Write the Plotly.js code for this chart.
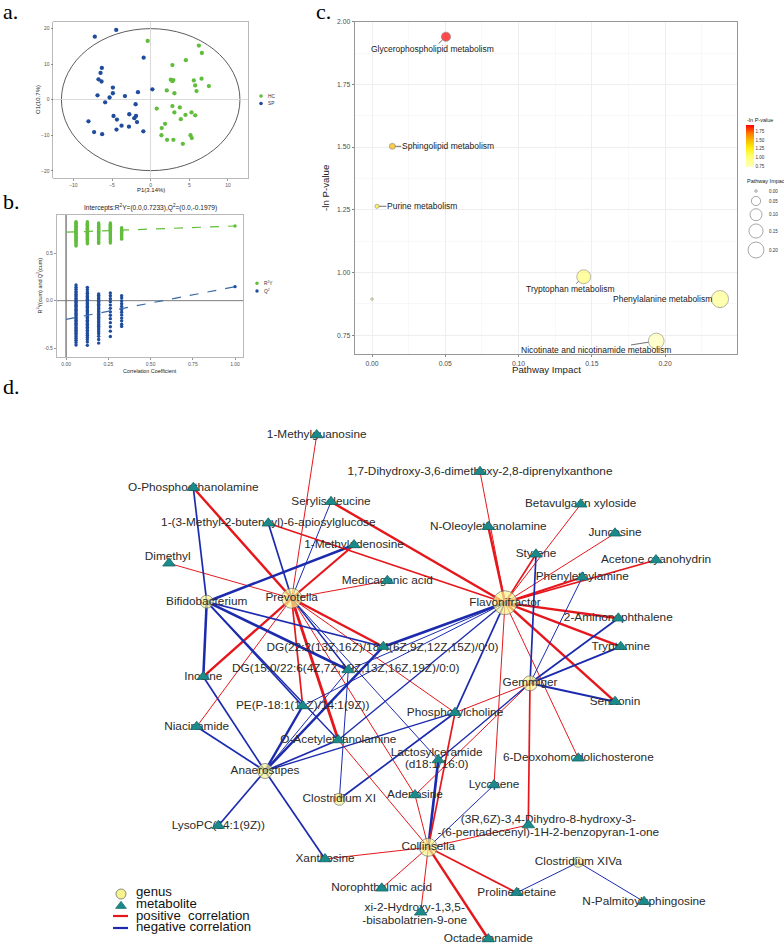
<!DOCTYPE html>
<html><head><meta charset="utf-8">
<script src="https://cdn.plot.ly/plotly-3.0.1.min.js"></script>
<style>html,body{margin:0;padding:0;background:#fff}#chart{width:784px;height:945px}</style>
</head><body><div id="chart"></div>
<script>
// ================= DATA =================
// Panel a: OPLS-DA score plot
const hcP1 = [-0.39,6.23,6.62,4.55,2.81,2.60,2.94,2.81,5.58,6.58,5.76,7.53,2.08,5.93,3.07,0.78,2.81,3.77,3.07,4.50,5.28,5.76,3.90,1.86,1.43,1.39,5.15,5.32,2.12,2.94,4.16];
const hcO1 = [16.5,15.2,13.1,11.1,9.7,5.6,5.5,5.2,5.4,5.9,4.0,3.8,2.6,2.4,1.8,-2.5,-1.8,-2.2,-3.6,-4.3,-3.6,-4.4,-5.5,-6.8,-8.0,-10.0,-10.0,-10.8,-11.3,-11.3,-12.4];
const spP1 = [-7.23,-4.46,-0.91,-6.32,-6.49,-6.75,-6.36,-4.89,0.22,-1.65,-4.89,-6.88,-3.33,-5.32,-5.89,-1.95,-4.81,-2.77,-1.90,-2.12,-4.37,-1.77,-8.05,-3.77,-2.81,-4.42,-7.32,-6.28,-0.95];
const spO1 = [17.7,19.6,11.8,8.9,7.5,5.7,5.1,3.4,2.9,2.1,1.8,1.2,1.0,0.6,-0.75,-1.3,-4.6,-4.1,-4.6,-5.2,-5.6,-6.3,-6.1,-7.3,-7.6,-8.4,-9.1,-9.7,-8.9];
const ellipseP1 = 11.55, ellipseO1 = 19.95;
const groupNames = ['HC','SP'];

// Panel b: permutation test
const permCorr = [0.059,0.126,0.193,0.262,0.329];
const r2yPerm = [
 [0.835,0.826,0.817,0.81,0.801,0.795,0.786,0.779,0.77,0.762,0.755,0.744,0.738,0.729,0.72,0.711,0.703,0.694,0.686,0.677,0.668,0.659,0.648,0.637,0.626,0.614,0.601,0.589,0.578],
 [0.834,0.823,0.815,0.806,0.797,0.788,0.781,0.772,0.764,0.755,0.747,0.739,0.73,0.722,0.713,0.705,0.696,0.688,0.679,0.668,0.659,0.648,0.636,0.623,0.611,0.6],
 [0.82,0.81,0.802,0.793,0.784,0.776,0.767,0.759,0.75,0.742,0.733,0.724,0.716,0.707,0.698,0.689,0.679,0.668,0.657,0.645,0.632,0.618,0.605],
 [0.82,0.808,0.797,0.786,0.776,0.765,0.755,0.745,0.736,0.726,0.716,0.706,0.695,0.684,0.672,0.659,0.645,0.628,0.61],
 [0.77,0.758,0.745,0.733,0.721,0.71,0.698,0.686,0.674,0.662,0.65]
];
const q2Perm = [
 [0.166,0.142,0.121,0.097,0.084,0.066,0.051,0.038,0.022,0.009,-0.006,-0.019,-0.034,-0.049,-0.061,-0.077,-0.092,-0.104,-0.119,-0.135,-0.148,-0.163,-0.179,-0.192,-0.207,-0.221,-0.238,-0.252,-0.266,-0.283,-0.297,-0.312,-0.329,-0.344,-0.361,-0.378,-0.396,-0.417,-0.441,-0.468],
 [0.141,0.118,0.093,0.078,0.06,0.044,0.031,0.015,0.001,-0.014,-0.029,-0.043,-0.058,-0.072,-0.087,-0.103,-0.116,-0.131,-0.146,-0.161,-0.175,-0.19,-0.206,-0.219,-0.235,-0.249,-0.265,-0.281,-0.296,-0.313,-0.33,-0.348,-0.366,-0.387,-0.41,-0.437,-0.472],
 [0.072,0.056,0.039,0.023,0.008,-0.007,-0.023,-0.038,-0.052,-0.068,-0.083,-0.099,-0.114,-0.128,-0.144,-0.159,-0.174,-0.19,-0.205,-0.221,-0.236,-0.253,-0.27,-0.288,-0.307,-0.327,-0.35,-0.377,-0.41,-0.448],
 [0.081,0.052,0.02,-0.012,-0.047,-0.081,-0.118,-0.154,-0.19,-0.232,-0.275,-0.322,-0.378],
 [0.052,0.027,-0.004,-0.033,-0.061,-0.094,-0.121,-0.152,-0.184,-0.213,-0.248,-0.272]
];
const r2yOriginal = 0.789, q2Original = 0.148;
const r2yIntercept = 0.7233, q2Intercept = -0.1979;

// Panel c: pathway analysis
const pathwayNames = ['Glycerophospholipid metabolism','Sphingolipid metabolism','Purine metabolism','Tryptophan metabolism','Phenylalanine metabolism','Nicotinate and nicotinamide metabolism',''];
const pathwayImpact = [0.0505,0.0139,0.0034,0.1445,0.2375,0.194,0.0];
const pathwayNegLogP = [1.94,1.503,1.264,0.983,0.894,0.727,0.894];
const impactLegendValues = [0.00,0.05,0.10,0.15,0.20];
const negLogPTicks = [0.75,1.00,1.25,1.50,1.75];

// Panel d: correlation network
const metabIds = ['mgu','dhx','pea','sil','bvx','mba','oea','jun','mad','sty','acy','dim','phe','med','amn','dg22','try','dg15','ino','ser','pe','pch','nia','oae','ddc','lac','lyc','ade','dbp','lpc','xan','nor','xbh','pro','nps','oct'];
const metabLabels = ['1-Methylguanosine','1,7-Dihydroxy-3,6-dimethoxy-2,8-diprenylxanthone','O-Phosphoethanolamine','Serylisoleucine','Betavulgarin xyloside','1-(3-Methyl-2-butenoyl)-6-apiosylglucose','N-Oleoylethanolamine','Juncosine','1-Methyladenosine','Styrene','Acetone cyanohydrin','Dimethyl','Phenylethylamine','Medicagenic acid','2-Aminonaphthalene','DG(22:2(13Z,16Z)/18:4(6Z,9Z,12Z,15Z)/0:0)','Tryptamine','DG(15:0/22:6(4Z,7Z,10Z,13Z,16Z,19Z)/0:0)','Inosine','Serotonin','PE(P-18:1(11Z)/14:1(9Z))','Phosphorylcholine','Niacinamide','O-Acetylethanolamine','6-Deoxohomodolichosterone','Lactosylceramide\n(d18:1/16:0)','Lycopene','Adenosine','(3R,6Z)-3,4-Dihydro-8-hydroxy-3-\n-(6-pentadecenyl)-1H-2-benzopyran-1-one','LysoPC(14:1(9Z))','Xanthosine','Norophthalmic acid','xi-2-Hydroxy-1,3,5-\n-bisabolatrien-9-one','Proline betaine','N-Palmitoylsphingosine','Octadecanamide'];
const metabLayoutX = [316.7,480,193.3,331,580.7,268.3,488.3,615,354,536,656,169,582.3,387.3,618.3,383.3,620.7,348.3,203.3,615,302.7,455,196.7,338.3,578.3,438.3,494,415,528.3,218.3,325,381.7,420.7,516.7,644,488.3];
const metabLayoutY = [435,471.7,487.7,501.7,504.3,523.3,526.7,533.3,545,554.3,560,563.3,577.3,580.7,618.3,646.7,646.7,670,676.7,701.7,706,712.7,726.7,740,758.3,760,785,795,825,825.7,859,888.3,912.3,892.7,901.7,939];
const genusNames = ['Prevotella','Bifidobacterium','Flavonifractor','Gemmiger','Anaerostipes','Clostridium XI','Collinsella','Clostridium XIVa'];
const genusLayoutX = [291.7,206.7,505,530,265,339.3,428.3,578.3];
const genusLayoutY = [598.3,601.7,602.7,683.3,771,799.3,847.3,862.3];
const genusDegreeSize = [20,13,24,15,15,12,18,10];

const edgeGenus = [
 'Prevotella','Prevotella','Prevotella','Prevotella','Prevotella','Prevotella','Prevotella','Prevotella','Prevotella','Prevotella','Prevotella','Prevotella','Prevotella','Prevotella','Prevotella','Prevotella',
 'Bifidobacterium','Bifidobacterium','Bifidobacterium','Bifidobacterium','Bifidobacterium','Bifidobacterium','Bifidobacterium',
 'Flavonifractor','Flavonifractor','Flavonifractor','Flavonifractor','Flavonifractor','Flavonifractor','Flavonifractor','Flavonifractor','Flavonifractor','Flavonifractor','Flavonifractor','Flavonifractor','Flavonifractor','Flavonifractor','Flavonifractor','Flavonifractor','Flavonifractor','Flavonifractor','Flavonifractor',
 'Gemmiger','Gemmiger','Gemmiger','Gemmiger','Gemmiger','Gemmiger','Gemmiger','Gemmiger','Gemmiger',
 'Anaerostipes','Anaerostipes','Anaerostipes','Anaerostipes','Anaerostipes','Anaerostipes','Anaerostipes','Anaerostipes','Anaerostipes',
 'Clostridium XI','Clostridium XI',
 'Collinsella','Collinsella','Collinsella','Collinsella','Collinsella','Collinsella','Collinsella','Collinsella','Collinsella','Collinsella','Collinsella',
 'Clostridium XIVa','Clostridium XIVa'];
const edgeMetab = [
 'mgu','pea','sil','mba','mad','dim','med','ino','nia','pe','oae','dg22','dg15','pch','ade','lac',
 'pea','mad','ino','dg15','dg22','pe','oae',
 'sil','mba','dhx','oea','bvx','jun','sty','acy','phe','amn','try','ser','dg22','dg15','pe','pch','lyc','ddc','oae',
 'sty','phe','amn','try','ser','pch','dbp','ade','lac',
 'ino','nia','dg22','dg15','pe','oae','pch','lpc','xan',
 'dg15','pch',
 'lac','pch','ade','lyc','dbp','xan','nor','xbh','oct','pro','oae',
 'pro','nps'];
const edgeCorr = [
 0.5,0.7,-0.5,-0.6,0.66,0.5,0.5,0.7,0.5,0.6,0.76,0.7,-0.56,0.5,0.5,-0.5,
 -0.6,-0.72,-0.72,-0.72,-0.6,-0.6,-0.55,
 0.7,0.6,0.5,0.7,0.5,0.5,0.6,0.6,0.66,0.7,0.7,0.7,-0.74,-0.5,-0.5,-0.6,0.5,0.5,-0.55,
 -0.6,-0.5,-0.6,-0.64,-0.64,0.5,0.6,0.5,-0.55,
 -0.6,-0.6,-0.7,-0.5,-0.7,-0.6,-0.55,-0.6,-0.6,
 -0.5,-0.6,
 -0.74,0.6,0.5,-0.5,0.5,0.5,0.5,0.5,0.7,0.6,0.5,
 -0.5,-0.5];

// ================= STYLE / LAYOUT =================
const W = 784, H = 945;
const FONT = 'Liberation Sans, Arial, Helvetica, sans-serif';
const SERIF = 'Liberation Serif, Times New Roman, serif';
const GREEN = '#62bd3d', BLUE = '#1f4c9c';
const RED_E = '#e5171c', BLUE_E = '#1c2bae';
const TEAL = '#1b8a8a', YEL = '#f8f48c';
const dx = v => v / W, dy = v => 1 - v / H;

const traces = [], shapes = [], ann = [];

// ---- Panel a
traces.push({type:'scatter',mode:'markers',x:hcP1,y:hcO1,xaxis:'x',yaxis:'y',marker:{color:GREEN,size:4.3},hoverinfo:'skip',showlegend:false});
traces.push({type:'scatter',mode:'markers',x:spP1,y:spO1,xaxis:'x',yaxis:'y',marker:{color:BLUE,size:4.3},hoverinfo:'skip',showlegend:false});
shapes.push({type:'circle',xref:'x',yref:'y',x0:-ellipseP1,x1:ellipseP1,y0:-ellipseO1,y1:ellipseO1,line:{color:'#333',width:0.8},layer:'below'});

// ---- Panel b
const bx1=[],by1=[],bx2=[],by2=[];
permCorr.forEach((c,i)=>{ r2yPerm[i].forEach(v=>{bx1.push(c);by1.push(v);}); q2Perm[i].forEach(v=>{bx2.push(c);by2.push(v);}); });
bx1.push(1.0); by1.push(r2yOriginal); bx2.push(1.0); by2.push(q2Original);
shapes.push({type:'line',xref:'x2',yref:'y2',x0:0,x1:0,y0:-0.595,y1:0.905,line:{color:'#808080',width:1.5},layer:'below'});
shapes.push({type:'line',xref:'x2',yref:'y2',x0:-0.0555,x1:1.049,y0:0,y1:0,line:{color:'#6e6e6e',width:0.9},layer:'below'});
traces.push({type:'scatter',mode:'markers',x:bx1,y:by1,xaxis:'x2',yaxis:'y2',marker:{color:GREEN,size:3.4},hoverinfo:'skip',showlegend:false});
traces.push({type:'scatter',mode:'markers',x:bx2,y:by2,xaxis:'x2',yaxis:'y2',marker:{color:BLUE,size:3.4},hoverinfo:'skip',showlegend:false});
traces.push({type:'scatter',mode:'lines',x:[0,1],y:[r2yIntercept,r2yOriginal],xaxis:'x2',yaxis:'y2',line:{color:GREEN,width:1.2,dash:'dash'},hoverinfo:'skip',showlegend:false});
traces.push({type:'scatter',mode:'lines',x:[0,1],y:[q2Intercept,q2Original],xaxis:'x2',yaxis:'y2',line:{color:'#3a6aa8',width:1.2,dash:'dash'},hoverinfo:'skip',showlegend:false});

// ---- Panel c
const impactSize = v => 2.5 + 30*Math.sqrt(v);
traces.push({type:'scatter',mode:'markers',x:pathwayImpact,y:pathwayNegLogP,xaxis:'x3',yaxis:'y3',hoverinfo:'skip',showlegend:false,
  marker:{size:pathwayImpact.map(impactSize),color:pathwayNegLogP,cmin:0.72,cmax:1.94,
    colorscale:[[0,'#ffffb8'],[0.25,'#ffff70'],[0.45,'#ffee10'],[0.62,'#f8c000'],[0.8,'#ff7a00'],[1,'#ff0000']],
    line:{color:'#555',width:0.6},
    colorbar:{x:dx(746),xanchor:'left',y:dy(146),yanchor:'middle',len:42,lenmode:'pixels',thickness:8,thicknessmode:'pixels',
      outlinewidth:0,tickvals:negLogPTicks,ticktext:negLogPTicks.map(v=>v.toFixed(2)),ticks:'',tickfont:{size:4.5,color:'#333',family:FONT},
      xpad:0,ypad:0}}});
ann.push({xref:'x4',yref:'y4',x:745,y:120,text:'-ln P-value',showarrow:false,xanchor:'left',font:{size:5.5,color:'#222',family:FONT}});
const labelOff = [[-13.3,12.3],[55.4,0],[44.9,0],[-13.7,12.3],[-57.9,0],[-60,9.5],[0,0]];
pathwayNames.forEach((n,i)=>{ if(!n) return;
  ann.push({xref:'x3',yref:'y3',x:pathwayImpact[i],y:pathwayNegLogP[i],text:n,showarrow:true,arrowhead:0,arrowwidth:0.7,arrowcolor:'#333',
    ax:labelOff[i][0],ay:labelOff[i][1],standoff:impactSize(pathwayImpact[i])/2,font:{size:8.5,color:'#1a1a1a',family:FONT},borderpad:0});
});
// size legend (overlay, pixel coords)
const sizeLegY = [191,201,214.7,231,250];
traces.push({type:'scatter',mode:'markers',x:impactLegendValues.map(()=>756),y:sizeLegY,xaxis:'x4',yaxis:'y4',hoverinfo:'skip',showlegend:false,cliponaxis:false,
  marker:{size:impactLegendValues.map(impactSize),color:'#fff',line:{color:'#333',width:0.6}}});
impactLegendValues.forEach((v,i)=>ann.push({xref:'x4',yref:'y4',x:767,y:sizeLegY[i],text:v.toFixed(2),showarrow:false,xanchor:'left',font:{size:4.5,color:'#333',family:FONT}}));
ann.push({xref:'x4',yref:'y4',x:745,y:181,text:'Pathway Impact',showarrow:false,xanchor:'left',font:{size:5.5,color:'#222',family:FONT}});

// ---- Panel d network
const gIdx = {}; genusNames.forEach((g,i)=>gIdx[g]=i);
const mIdx = {}; metabIds.forEach((m,i)=>mIdx[m]=i);
const edgeWidth = r => 1 + (Math.abs(r)-0.5)*7;
edgeGenus.forEach((g,k)=>{
  const gi = gIdx[g], mi = mIdx[edgeMetab[k]];
  traces.push({type:'scatter',mode:'lines',x:[genusLayoutX[gi],metabLayoutX[mi]],y:[genusLayoutY[gi],metabLayoutY[mi]],xaxis:'x4',yaxis:'y4',
    line:{color:edgeCorr[k]>0?RED_E:BLUE_E,width:edgeWidth(edgeCorr[k])},hoverinfo:'skip',showlegend:false,cliponaxis:false});
});
const labelShift = {dim:[-1.3,-6],dg22:[-0.8,1.5],dg15:[-2.5,-0.5],lac:[-1.6,-1],dbp:[20,1.2],xbh:[-6,2.4]};
const LINE_GAP = 12.8;
const lx=[],ly=[],lt=[];
metabIds.forEach((id,i)=>{
  const lines = metabLabels[i].split('\n');
  const s = labelShift[id]||[0,0];
  lines.forEach((ln,k)=>{ lx.push(metabLayoutX[i]+s[0]); ly.push(metabLayoutY[i]+s[1]+(k-(lines.length-1)/2)*LINE_GAP); lt.push(ln); });
});
traces.push({type:'scatter',mode:'text',x:lx,y:ly,text:lt,textposition:'middle center',textfont:{family:FONT,size:11.8,color:'#2a2a2a'},xaxis:'x4',yaxis:'y4',cliponaxis:false,hoverinfo:'skip',showlegend:false});
traces.push({type:'scatter',mode:'markers',x:metabLayoutX,y:metabLayoutY,xaxis:'x4',yaxis:'y4',cliponaxis:false,hoverinfo:'skip',showlegend:false,
  marker:{symbol:'triangle-up',size:11,color:TEAL,line:{color:'#0e5c5c',width:0.7}}});
traces.push({type:'scatter',mode:'markers',x:genusLayoutX,y:genusLayoutY,xaxis:'x4',yaxis:'y4',cliponaxis:false,hoverinfo:'skip',showlegend:false,
  marker:{symbol:'circle',size:genusDegreeSize,color:YEL,line:{color:'#707070',width:1}}});
traces.push({type:'scatter',mode:'text',x:genusLayoutX,y:genusLayoutY,text:genusNames,textposition:'middle center',textfont:{family:FONT,size:11.8,color:'#2a2a2a'},xaxis:'x4',yaxis:'y4',cliponaxis:false,hoverinfo:'skip',showlegend:false});

// legend panel d
traces.push({type:'scatter',mode:'markers',x:[121],y:[894],xaxis:'x4',yaxis:'y4',hoverinfo:'skip',showlegend:false,cliponaxis:false,marker:{size:10,color:YEL,line:{color:'#707070',width:0.8}}});
traces.push({type:'scatter',mode:'markers',x:[121],y:[906],xaxis:'x4',yaxis:'y4',hoverinfo:'skip',showlegend:false,cliponaxis:false,marker:{symbol:'triangle-up',size:9.5,color:TEAL,line:{color:'#0e5c5c',width:0.6}}});
shapes.push({type:'line',xref:'x4',yref:'y4',x0:113,x1:128,y0:916,y1:916,line:{color:RED_E,width:2.2}});
shapes.push({type:'line',xref:'x4',yref:'y4',x0:113,x1:128,y0:928,y1:928,line:{color:BLUE_E,width:2.2}});
[['genus',891.5],['metabolite',903.3],['positive\u00a0 correlation',915],['negative correlation',926.7]].forEach(t=>
  ann.push({xref:'x4',yref:'y4',x:134,y:t[1],text:t[0],showarrow:false,xanchor:'left',yanchor:'middle',font:{size:13.2,color:'#111',family:FONT}}));

// legends panels a, b
traces.push({type:'scatter',mode:'markers',x:[261,261],y:[96,103.5],xaxis:'x4',yaxis:'y4',hoverinfo:'skip',showlegend:false,cliponaxis:false,marker:{size:3.6,color:[GREEN,BLUE]}});
ann.push({xref:'x4',yref:'y4',x:265.5,y:96,text:groupNames[0],showarrow:false,xanchor:'left',font:{size:4.8,color:'#333',family:FONT}});
ann.push({xref:'x4',yref:'y4',x:265.5,y:103.5,text:groupNames[1],showarrow:false,xanchor:'left',font:{size:4.8,color:'#333',family:FONT}});
traces.push({type:'scatter',mode:'markers',x:[257,257],y:[283.3,291],xaxis:'x4',yaxis:'y4',hoverinfo:'skip',showlegend:false,cliponaxis:false,marker:{size:3.4,color:[GREEN,BLUE]}});
ann.push({xref:'x4',yref:'y4',x:261.5,y:283.3,text:'R<sup>2</sup>Y',showarrow:false,xanchor:'left',font:{size:4.8,color:'#333',family:FONT}});
ann.push({xref:'x4',yref:'y4',x:261.5,y:291,text:'Q<sup>2</sup>',showarrow:false,xanchor:'left',font:{size:4.8,color:'#333',family:FONT}});

// axis titles & panel letters
const A = (x,y,t,sz,extra)=>ann.push(Object.assign({xref:'x4',yref:'y4',x:x,y:y,text:t,showarrow:false,font:{size:sz,color:'#222',family:FONT}},extra||{}));
A(150.7,190,'P1(3.14%)',6);
A(38,100,'O1(10.7%)',6,{textangle:-90});
A(150,207.5,'Intercepts:R<sup>2</sup>Y=(0.0,0.7233),Q<sup>2</sup>=(0.0,-0.1979)',6.6);
A(150,370.5,'Correlation Coefficient',5.4);
A(39.5,286,'R<sup>2</sup>Y(cum) and Q<sup>2</sup>(cum)',5.4,{textangle:-90});
A(546.7,369,'Pathway Impact',9.7);
A(325,188,'-ln P-value',9.7,{textangle:-90});
const L = (x,y,t)=>ann.push({xref:'x4',yref:'y4',x:x,y:y,text:t,showarrow:false,xanchor:'left',yanchor:'middle',font:{size:22,color:'#000',family:SERIF}});
L(0.5,11,'a.'); L(0.5,201,'b.'); L(314,11,'c.'); L(0.5,386,'d.');

// ---- axes
const tickFontSmall = {size:5,color:'#555',family:FONT};
const baseAx = {ticks:'outside',ticklen:2,tickwidth:0.6,tickcolor:'#555',showgrid:false,showline:true,mirror:true,linecolor:'#a8a8a8',linewidth:0.8,fixedrange:true};
const layout = {
  width:W,height:H,margin:{l:0,r:0,t:0,b:0,pad:0},paper_bgcolor:'#fff',plot_bgcolor:'rgba(0,0,0,0)',showlegend:false,hovermode:false,
  xaxis:Object.assign({},baseAx,{domain:[dx(53.3),dx(248.3)],range:[-12.6,12.63],tickvals:[-10,-5,0,5,10],tickfont:tickFontSmall,zeroline:true,zerolinecolor:'#d2d2d2',zerolinewidth:0.8,anchor:'y'}),
  yaxis:Object.assign({},baseAx,{domain:[dy(178.3),dy(21.7)],range:[-22.1,21.9],tickvals:[-20,-10,0,10,20],tickfont:tickFontSmall,zeroline:true,zerolinecolor:'#d2d2d2',zerolinewidth:0.8,anchor:'x'}),
  xaxis2:Object.assign({},baseAx,{domain:[dx(56.7),dx(243.3)],range:[-0.0555,1.049],tickvals:[0,0.25,0.5,0.75,1],ticktext:['0.00','0.25','0.50','0.75','1.00'],tickfont:tickFontSmall,zeroline:false,anchor:'y2'}),
  yaxis2:Object.assign({},baseAx,{domain:[dy(357),dy(215)],range:[-0.595,0.905],tickvals:[-0.5,0,0.5],ticktext:['-0.5','0.0','0.5'],tickfont:tickFontSmall,zeroline:false,anchor:'x2'}),
  xaxis3:{domain:[dx(355),dx(737)],range:[-0.0116,0.2491],tickvals:[0,0.05,0.1,0.15,0.2,0.25],ticktext:['0.00','0.05','0.10','0.15','0.20','0.25'],
    ticks:'outside',ticklen:2.5,tickwidth:0.6,tickcolor:'#333',tickfont:{size:6.8,color:'#4d4d4d',family:FONT},showgrid:true,gridcolor:'#ebebeb',gridwidth:0.8,
    minor:{dtick:0.025,tick0:0,showgrid:true,gridcolor:'#f4f4f4',gridwidth:0.6,ticks:''},zeroline:false,showline:true,mirror:true,linecolor:'#8c8c8c',linewidth:0.9,anchor:'y3',fixedrange:true},
  yaxis3:{domain:[dy(354),dy(21.7)],range:[0.675,2.0],tickvals:[0.75,1,1.25,1.5,1.75,2],ticktext:['0.75','1.00','1.25','1.50','1.75','2.00'],
    ticks:'outside',ticklen:2.5,tickwidth:0.6,tickcolor:'#333',tickfont:{size:6.8,color:'#4d4d4d',family:FONT},showgrid:true,gridcolor:'#ebebeb',gridwidth:0.8,
    minor:{dtick:0.125,tick0:0.75,showgrid:true,gridcolor:'#f4f4f4',gridwidth:0.6,ticks:''},zeroline:false,showline:true,mirror:true,linecolor:'#8c8c8c',linewidth:0.9,anchor:'x3',fixedrange:true},
  xaxis4:{domain:[0,1],range:[0,W],visible:false,fixedrange:true,anchor:'y4'},
  yaxis4:{domain:[0,1],range:[H,0],visible:false,fixedrange:true,anchor:'x4'},
  shapes:shapes,annotations:ann
};
Plotly.newPlot('chart',traces,layout,{staticPlot:true,displayModeBar:false});
</script></body></html>
